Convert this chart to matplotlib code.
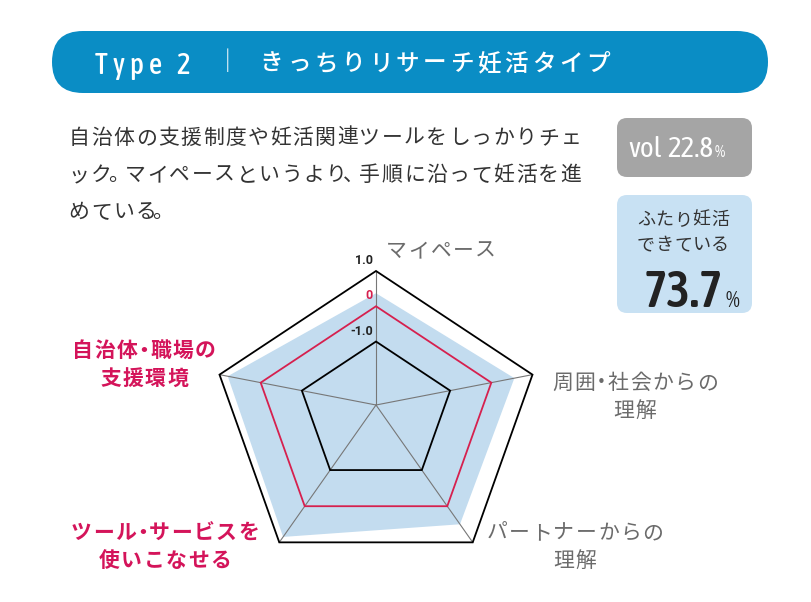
import matplotlib
matplotlib.use("Agg")
import matplotlib.pyplot as plt
from matplotlib.patches import FancyBboxPatch, Polygon
import numpy as np

JP = ["Noto Sans CJK JP", "DejaVu Sans"]
NUM = ["Asap Condensed", "Roboto", "DejaVu Sans"]
SANS = ["Roboto", "DejaVu Sans"]

# ---- data ----
title_en = "Type 2"
title_jp = "きっちりリサーチ妊活タイプ"
body_lines = ["自治体の支援制度や妊活関連ツールをしっかりチェ",
              "ック。マイペースというより、手順に沿って妊活を進",
              "めている。"]
vol_label = "vol"
vol_value = "22.8"
couple_lines = ["ふたり妊活", "できている"]
couple_value = "73.7"

axis_labels = [["マイペース"],
               ["周囲・社会からの", "理解"],
               ["パートナーからの", "理解"],
               ["ツール・サービスを", "使いこなせる"],
               ["自治体・職場の", "支援環境"]]
axis_highlight = [False, False, False, True, True]
scores = [0.37, 0.56, 0.50, 0.85, 0.80]
ring_levels = [1.0, 0.0, -1.0]
ring_labels = ["1.0", "0", "-1.0"]
r_min, r_max = -2.8, 1.0

# ---- canvas in pixel coords ----
fig = plt.figure(figsize=(8.12, 6.02), dpi=100)
ax = fig.add_axes([0, 0, 1, 1])
ax.set_xlim(0, 812)
ax.set_ylim(602, 0)
ax.axis("off")
renderer = fig.canvas.get_renderer()

DARK = "#333333"
GRAY = "#6b6b6b"
PINK = "#d4145a"
RED = "#d6204e"


def spaced(x, y, s, adv, ha="left", **kw):
    # full-width text with fixed advance, punctuation set half width
    widths = [adv * (0.5 if ch in "。、・" else 1.0) for ch in s]
    if ha == "center":
        x = x - sum(widths) / 2
    for ch, w in zip(s, widths):
        ax.text(x + w / 2, y, ch, ha="center", va="baseline", **kw)
        x += w


def tracked(x, y, s, track, **kw):
    for ch in s:
        if ch == " ":
            x += kw.get("fontsize", 10) * 0.45
            continue
        t = ax.text(x, y, ch, ha="left", va="baseline", **kw)
        bb = t.get_window_extent(renderer=renderer)
        x += bb.width + track


def right_edge(t):
    bb = t.get_window_extent(renderer=renderer)
    return ax.transData.inverted().transform((bb.x1, bb.y0))[0]


# ---- header ----
ax.add_patch(FancyBboxPatch((52, 31), 716, 62, boxstyle="round,pad=0,rounding_size=31",
                            fc="#0a8dc5", ec="none"))
tracked(95, 74, title_en, 5, fontsize=21, color="white", family=NUM, weight="medium")
ax.text(228, 62, "｜", ha="center", va="center", fontsize=17, color="white", family=JP)
spaced(258, 71, title_jp, 27.2, fontsize=17, color="white", family=JP, weight="medium")

# ---- body ----
for i, line in enumerate(body_lines):
    spaced(68, 144 + i * 37, line, 22.35, fontsize=15, color=DARK, family=JP)

# ---- right boxes ----
ax.add_patch(FancyBboxPatch((617, 118), 135, 59, boxstyle="round,pad=0,rounding_size=10",
                            fc="#a5a5a5", ec="none"))
t = ax.text(628, 157, vol_label, ha="left", va="baseline", fontsize=21, color="white", family=NUM)
t = ax.text(right_edge(t) + 6, 157, vol_value, ha="left", va="baseline", fontsize=21,
            color="white", family=NUM)
ax.text(right_edge(t) + 1, 157, "%", ha="left", va="baseline", fontsize=12, color="white", family=NUM)

ax.add_patch(FancyBboxPatch((617, 195), 135, 118, boxstyle="round,pad=0,rounding_size=10",
                            fc="#c8e1f3", ec="none"))
for i, line in enumerate(couple_lines):
    spaced(683, 225 + i * 25, line, 18.6, ha="center", fontsize=13, color=DARK, family=JP)
t = ax.text(644, 307, couple_value, ha="left", va="baseline", fontsize=36, weight="semibold",
            color="#222222", family=NUM)
ax.text(right_edge(t) + 2, 307, "%", ha="left", va="baseline", fontsize=16, color="#222222", family=NUM)

# ---- radar ----
center = np.array([376.0, 405.0])
R, sx, dy = 150.0, 1.097, 16.0
ang = np.deg2rad(90 - 72 * np.arange(5))
spoke = np.column_stack([sx * R * np.cos(ang), -R * np.sin(ang) + dy])


def ring(vals):
    f = (np.asarray(vals, dtype=float) - r_min) / (r_max - r_min)
    return center + f[:, None] * spoke


ax.add_patch(Polygon(ring(scores), closed=True, fc="#c3dcef", ec="none", zorder=1))
for s in spoke:
    ax.plot([center[0], center[0] + s[0]], [center[1], center[1] + s[1]],
            color="#777777", lw=0.8, zorder=2)
for lev, lab in zip(ring_levels, ring_labels):
    col = RED if lev == 0 else "black"
    pts = ring([lev] * 5)
    ax.add_patch(Polygon(pts, closed=True, fc="none", ec=col, lw=1.3, zorder=3))
    ax.text(373, pts[0, 1] - 4, lab, ha="right", va="bottom", fontsize=9,
            weight="bold", color=(RED if lev == 0 else "#222222"), family=SANS, zorder=4)

label_pos = [(441, 257), (635, 389), (575, 539), (165, 539), (144, 357)]
for lines, hl, (lx, ly) in zip(axis_labels, axis_highlight, label_pos):
    for j, line in enumerate(lines):
        spaced(lx, ly + j * 28, line, 22.3, ha="center", fontsize=15,
               color=(PINK if hl else GRAY), weight=("bold" if hl else "normal"), family=JP)

fig.savefig("out.png", dpi=100)
